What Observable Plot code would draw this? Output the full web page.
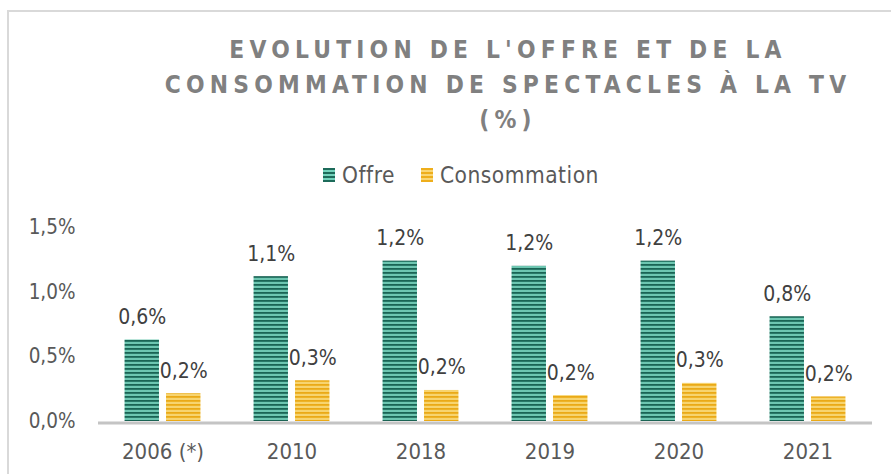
<!DOCTYPE html>
<html>
<head>
<meta charset="utf-8">
<script src="https://cdn.jsdelivr.net/npm/d3@7"></script>
<script src="https://cdn.jsdelivr.net/npm/@observablehq/plot@0.6"></script>
<style>
  html, body { margin: 0; padding: 0; background: #fff; }
  #wrap { position: relative; width: 891px; height: 474px; overflow: hidden; background: #fff;
          font-family: "DejaVu Sans Condensed", "DejaVu Sans", sans-serif; }
  #frame { position: absolute; left: 7px; top: 10px; width: 900px; height: 480px;
           border-left: 2px solid #d9d9d9; border-top: 2px solid #d9d9d9; }
  #title { position: absolute; left: 0; top: 32px; width: 1016px; text-align: center;
           font-size: 24.3px; font-weight: bold; line-height: 35px; letter-spacing: 5.2px; color: #808080; }
  #legend { position: absolute; left: 323px; top: 161px; display: flex; align-items: center;
            font-size: 22.5px; letter-spacing: 0.5px; color: #595959; line-height: 28px; }
  .sw { display: inline-block; width: 12px; height: 14px; margin-right: 7px; }
  .sw.o { background: repeating-linear-gradient(to bottom, #1d6b5a 0 2px, #72d2bb 2px 4px); }
  .sw.c { background: repeating-linear-gradient(to bottom, #eeae1c 0 2px, #f9d674 2px 4px); }
  #chart { position: absolute; left: 0; top: 196px; }
</style>
</head>
<body>
<div id="wrap">
  <div id="frame"></div>
  <div id="title">EVOLUTION DE L'OFFRE ET DE LA<br>CONSOMMATION DE SPECTACLES À LA TV<br>(%)</div>
  <div id="legend"><span class="sw o"></span><span>Offre</span><span style="width:26px"></span><span class="sw c"></span><span>Consommation</span></div>
  <div id="chart"></div>
</div>
<script>
const years = ["2006 (*)", "2010", "2018", "2019", "2020", "2021"];
const series = ["Offre", "Consommation"];
const offre = [0.63, 1.12, 1.24, 1.20, 1.24, 0.81];
const consommation = [0.215, 0.315, 0.24, 0.20, 0.295, 0.19];
const yTicks = [0, 0.5, 1.0, 1.5];

const rows = [];
years.forEach((y, i) => {
  rows.push({year: y, series: "Offre", value: offre[i]});
  rows.push({year: y, series: "Consommation", value: consommation[i]});
});
const fmt = v => v.toFixed(1).replace(".", ",") + "%";

const svg = Plot.plot({
  width: 891,
  height: 278,
  marginLeft: 95.5,
  marginRight: 16.5,
  marginTop: 31,
  marginBottom: 53,
  style: {fontFamily: "'DejaVu Sans Condensed', 'DejaVu Sans', sans-serif", color: "#595959", background: "transparent", overflow: "visible"},
  fx: {domain: years, padding: 0, label: null},
  x: {domain: series, paddingInner: 0.17, paddingOuter: 0.64, round: false, axis: null},
  y: {domain: [0, 1.5], label: null},
  color: {domain: series, range: ["url(#stripeOffre)", "url(#stripeConso)"]},
  marks: [
    Plot.ruleY([0], {stroke: "#c4c4c4", strokeWidth: 3, dy: 1.5}),
    Plot.barY(rows, {fx: "year", x: "series", y: "value", fill: "series"}),
    Plot.text(rows, {fx: "year", x: "series", y: "value", text: d => fmt(d.value), dy: -16, lineAnchor: "bottom", fontSize: 21, fill: "#404040"}),
    Plot.axisY({ticks: yTicks, tickSize: 0, tickPadding: 23, tickFormat: fmt, fontSize: 20.5, label: null}),
    Plot.axisFx({anchor: "bottom", tickSize: 0, tickPadding: 22, fontSize: 22, label: null})
  ]
});

d3.select(svg).insert("defs", ":first-child").html(`
  <pattern id="stripeOffre" patternUnits="userSpaceOnUse" width="8" height="4">
    <rect x="0" y="0" width="8" height="4" fill="#3f9a85"/>
    <rect x="0" y="0" width="8" height="1.6" fill="#1a6454"/>
    <rect x="0" y="2.4" width="8" height="1.2" fill="#8be3cf"/>
  </pattern>
  <pattern id="stripeConso" patternUnits="userSpaceOnUse" width="8" height="4">
    <rect x="0" y="0" width="8" height="4" fill="#f3c240"/>
    <rect x="0" y="0" width="8" height="1.6" fill="#eaa917"/>
    <rect x="0" y="2.4" width="8" height="1.2" fill="#fbe08e"/>
  </pattern>`);

document.getElementById("chart").appendChild(svg);
</script>
</body>
</html>
